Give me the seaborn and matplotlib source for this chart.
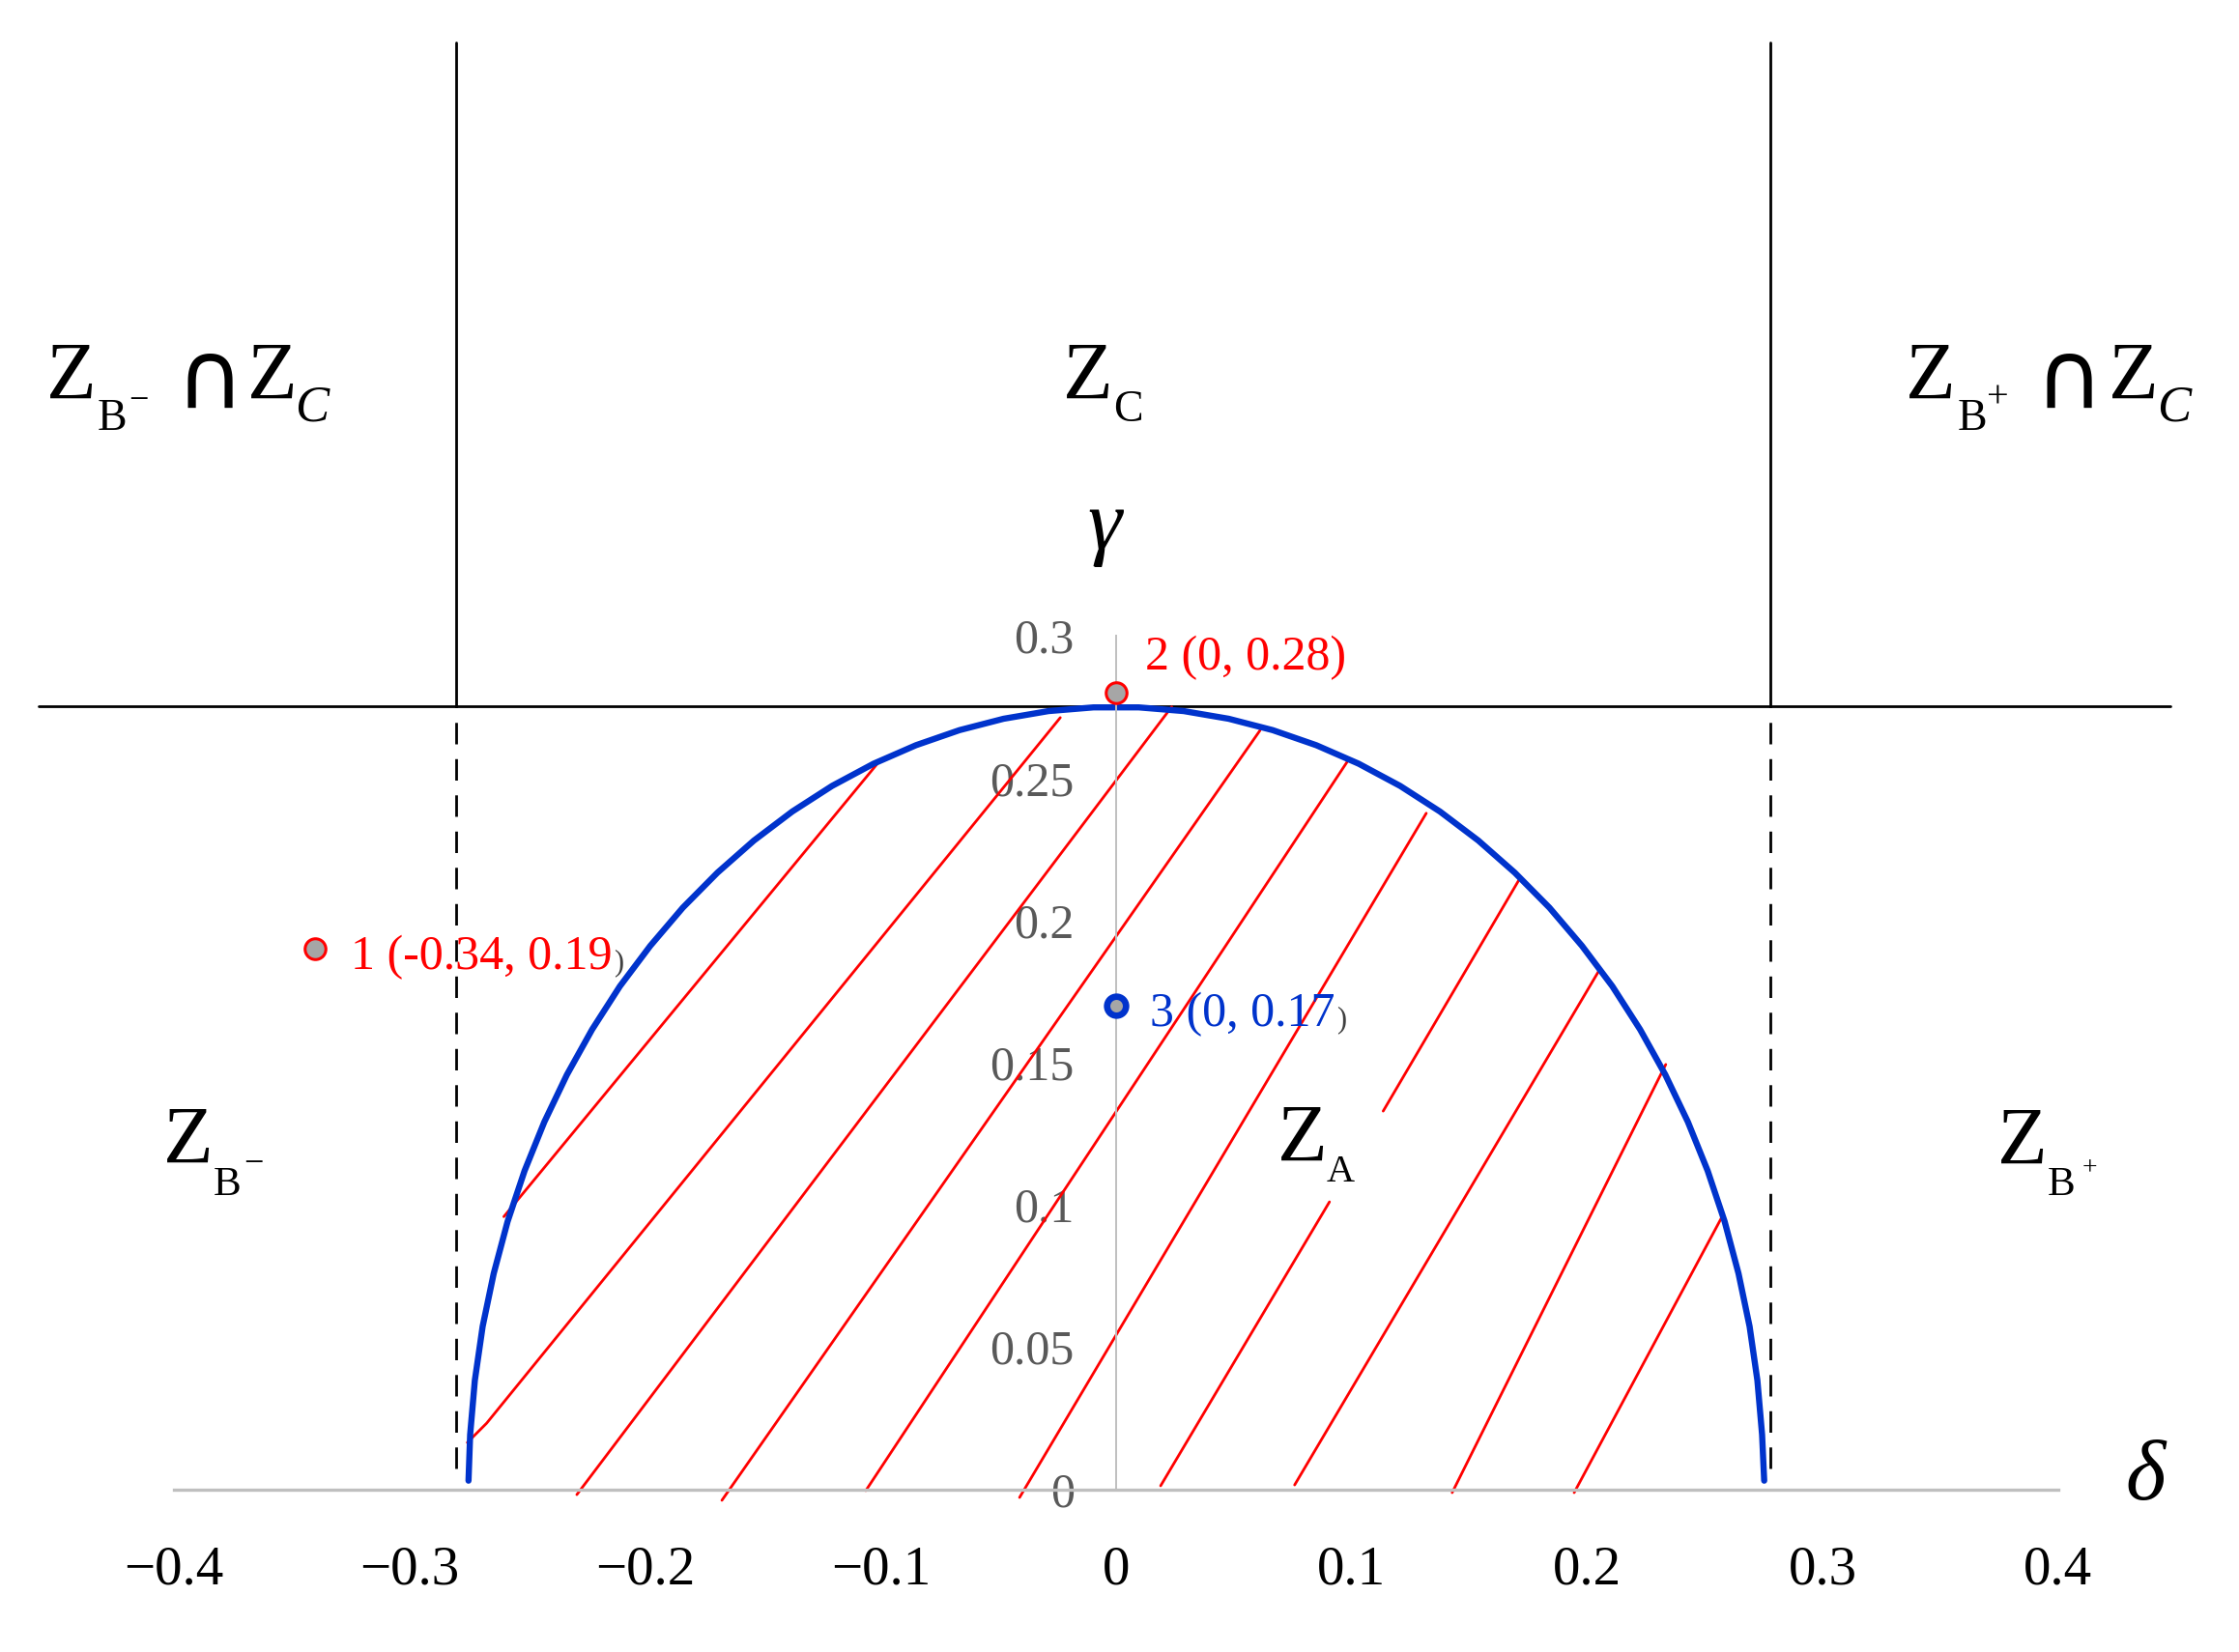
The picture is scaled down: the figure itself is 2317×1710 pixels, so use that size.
import matplotlib
matplotlib.use("Agg")
import matplotlib.pyplot as plt
import numpy as np
import pandas as pd
import seaborn as sns

# boundary curve of Z_A (left foot to right foot)
CURVE_X = [-0.2750, -0.2743, -0.2723, -0.2690, -0.2643, -0.2584, -0.2512, -0.2428,
           -0.2332, -0.2225, -0.2107, -0.1978, -0.1840, -0.1693, -0.1538, -0.1375,
           -0.1206, -0.1030, -0.0850, -0.0665, -0.0478, -0.0287, -0.0096,
           0.0096, 0.0287, 0.0478, 0.0665, 0.0850, 0.1030, 0.1206, 0.1375,
           0.1538, 0.1693, 0.1840, 0.1978, 0.2107, 0.2225, 0.2332, 0.2428,
           0.2512, 0.2584, 0.2643, 0.2690, 0.2723, 0.2743, 0.2752]
CURVE_Y = [0.0030, 0.0192, 0.0383, 0.0572, 0.0758, 0.0941, 0.1119, 0.1291,
           0.1457, 0.1616, 0.1768, 0.1910, 0.2044, 0.2167, 0.2280, 0.2382,
           0.2472, 0.2550, 0.2615, 0.2668, 0.2708, 0.2735, 0.2748,
           0.2748, 0.2735, 0.2708, 0.2668, 0.2615, 0.2550, 0.2472, 0.2382,
           0.2280, 0.2167, 0.2044, 0.1910, 0.1768, 0.1616, 0.1457, 0.1291,
           0.1119, 0.0941, 0.0758, 0.0572, 0.0383, 0.0192, 0.0030]

# red hatching, one list of vertices per segment
HATCH = [
    [(-0.1005, 0.2559), (-0.2600, 0.0958)],
    [(-0.0237, 0.2712), (-0.2673, 0.0232), (-0.2755, 0.0164)],
    [(0.0236, 0.2750), (-0.2290, -0.0019)],
    [(0.0611, 0.2667), (-0.1674, -0.0039)],
    [(0.0983, 0.2559), (-0.1063, -0.0005)],
    [(0.1317, 0.2376), (-0.0410, -0.0029)],
    [(0.1711, 0.2142), (0.1134, 0.1329)],
    [(0.0906, 0.1010), (0.0189, 0.0012)],
    [(0.2050, 0.1822), (0.0758, 0.0015)],
    [(0.2334, 0.1493), (0.1427, -0.0012)],
    [(0.2572, 0.0956), (0.1945, -0.0012)],
]

# boundaries
GAMMA_LIMIT = 0.2752
DELTA_LEFT = -0.2803
DELTA_RIGHT = 0.2777
LINE_X_RANGE = (-0.4575, 0.4477)
TOP_Y = 0.5085
DASH_BOTTOM = 0.0073

# labelled points
PTS_X = [-0.34, 0.0, 0.0]
PTS_Y = [0.19, 0.28, 0.17]

X_TICKS = [-0.4, -0.3, -0.2, -0.1, 0.0, 0.1, 0.2, 0.3, 0.4]
X_LABELS = ["\u22120.4", "\u22120.3", "\u22120.2", "\u22120.1", "0", "0.1", "0.2", "0.3", "0.4"]
Y_TICKS = [0.0, 0.05, 0.1, 0.15, 0.2, 0.25, 0.3]
Y_LABELS = ["0", "0.05", "0.1", "0.15", "0.2", "0.25", "0.3"]

BLUE = "#0033cc"
RED = "#ff0000"
GREY_AXIS = "#bfbfbf"
SERIF = ["Liberation Serif", "DejaVu Serif"]

W, H = 2317, 1710

sns.set_theme(style="white")
plt.rcParams["font.family"] = SERIF

fig = plt.figure(figsize=(W / 100, H / 100), dpi=100)
ax = fig.add_axes([0, 0, 1, 1])
ax.set_xlim(-1155 / 2437, (W - 1155) / 2437)
ax.set_ylim((1541.5 - H) / 2945, 1541.5 / 2945)

# region boundaries
ax.plot(LINE_X_RANGE, [GAMMA_LIMIT, GAMMA_LIMIT], color="black", lw=2)
for xv in (DELTA_LEFT, DELTA_RIGHT):
    ax.plot([xv, xv], [GAMMA_LIMIT, TOP_Y], color="black", lw=2)
    ax.plot([xv, xv], [DASH_BOTTOM, GAMMA_LIMIT], color="black", lw=2,
            linestyle=(0, (8, 5.5)))

# hatching
rows = []
for i, seg in enumerate(HATCH):
    for k, (hx, hy) in enumerate(seg):
        rows.append({"seg": i, "order": k, "x": hx, "y": hy})
hatch_df = pd.DataFrame(rows)
sns.lineplot(data=hatch_df, x="x", y="y", units="seg", estimator=None, sort=False,
             color=RED, lw=2.0, ax=ax, legend=False)

# boundary curve
sns.lineplot(x=CURVE_X, y=CURVE_Y, sort=False, estimator=None, color=BLUE, lw=4.6,
             ax=ax, solid_capstyle="round", solid_joinstyle="round")

# points
ax.scatter(PTS_X[:2], PTS_Y[:2], s=240, facecolor="#a6a6a6", edgecolor=RED,
           linewidth=2.2, zorder=5)
ax.scatter(PTS_X[2:], PTS_Y[2:], s=200, facecolor="#a6a6a6", edgecolor=BLUE,
           linewidth=4.8, zorder=5)

# axes through the origin
for s in ["top", "right"]:
    ax.spines[s].set_visible(False)
ax.spines["bottom"].set_position(("data", 0))
ax.spines["bottom"].set_bounds(-0.4, 0.4)
ax.spines["bottom"].set_color(GREY_AXIS)
ax.spines["bottom"].set_linewidth(2.4)
ax.spines["left"].set_position(("data", 0))
ax.spines["left"].set_bounds(0, 0.3)
ax.spines["left"].set_color(GREY_AXIS)
ax.spines["left"].set_linewidth(1.4)
ax.set_xticks(X_TICKS)
ax.set_xticklabels(X_LABELS)
ax.set_yticks(Y_TICKS)
ax.set_yticklabels(Y_LABELS)
ax.tick_params(axis="x", length=0, pad=42, labelsize=41, labelcolor="black")
ax.tick_params(axis="y", length=0, pad=31, labelsize=36, labelcolor="#595959")
ax.set_xlabel("")
ax.set_ylabel("")
ax.grid(False)


def put(px, py, s, size, color="black", style="normal", family=SERIF, ha="left",
        va="baseline"):
    return fig.text(px / W, 1 - py / H, s, fontsize=size, color=color, style=style,
                    family=family, ha=ha, va=va)


def tail_paren(t, color):
    ax.annotate(")", xy=(1, 0), xycoords=t, xytext=(1, 2), textcoords="offset points",
                fontsize=22, color=color, ha="left", va="bottom")


# point labels
t1 = put(363, 1003, "1 (-0.34, 0.19", 36, color=RED)
tail_paren(t1, "#404040")
put(1185, 693, "2 (0, 0.28)", 36, color=RED)
t3 = put(1190, 1062, "3 (0, 0.17", 36, color=BLUE)
tail_paren(t3, "#404040")

# axis names
put(1143, 568, "\u03b3", 64, style="italic", ha="center")
put(2220, 1552, "\u03b4", 64, style="italic", ha="center")

CAP = ["DejaVu Sans"]

# Z_{B-} ∩ Z_C
put(48, 413, "Z", 61)
put(101, 445, "B", 33)
put(133, 424, "\u2212", 26)
put(182, 422, "\u2229", 70, family=CAP)
put(256, 413, "Z", 61)
put(305, 435, "C", 38, style="italic")

# Z_C
put(1100, 413, "Z", 61)
put(1152, 436, "C", 33)

# Z_{B+} ∩ Z_C
put(1972, 413, "Z", 61)
put(2026, 445, "B", 33)
put(2056, 422, "+", 29)
put(2105, 422, "\u2229", 70, family=CAP)
put(2182, 413, "Z", 61)
put(2232, 435, "C", 38, style="italic")

# lower labels
put(169, 1204, "Z", 61)
put(221, 1237, "B", 31)
put(252, 1214, "\u2212", 26)
put(1322, 1202, "Z", 61)
put(1373, 1223, "A", 29)
put(2067, 1205, "Z", 61)
put(2119, 1237, "B", 31)
put(2155, 1216, "+", 20)

fig.savefig("out.png", dpi=100)
